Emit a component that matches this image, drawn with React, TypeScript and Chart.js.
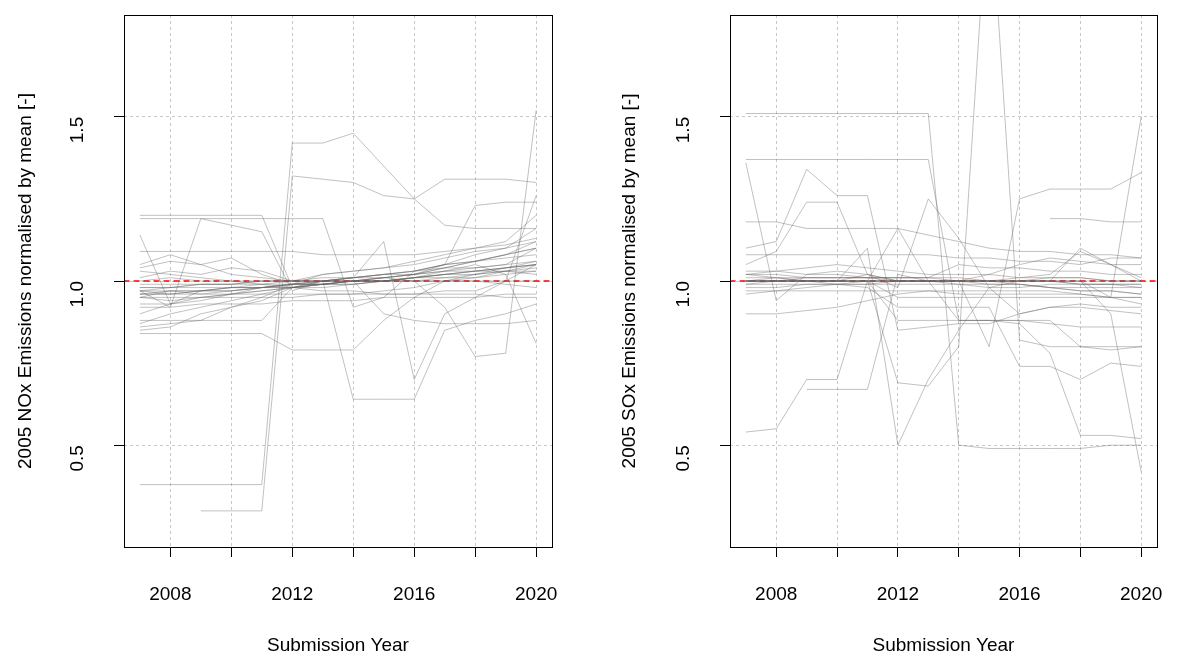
import { useEffect, useRef } from 'react';
import { Chart, registerables } from 'chart.js';

Chart.register(...registerables);

const years = [2007, 2008, 2009, 2010, 2011, 2012, 2013, 2014, 2015, 2016, 2017, 2018, 2019, 2020];
const yTicks = [0.5, 1.0, 1.5];
const xLabelYears = [2008, 2012, 2016, 2020];
const refLevel = 1.0;

const noxSeries: (number | null)[][] = [
  [0.38, 0.38, 0.38, 0.38, 0.38, 1.42, 1.42, 1.45, 1.35, 1.25, 1.17, 1.16, 1.16, 1.16],
  [null, null, 0.30, 0.30, 0.30, 1.32, 1.31, 1.30, 1.26, 1.25, 1.31, 1.31, 1.31, 1.30],
  [1.20, 1.20, 1.20, 1.20, 1.20, 0.98, 0.99, 1.00, 1.01, 1.02, 1.04, 1.06, 1.08, 1.10],
  [1.19, 1.19, 1.19, 1.19, 1.19, 1.19, 1.19, 0.92, 0.95, 1.03, 1.05, 1.08, 1.10, 1.12],
  [1.14, 0.93, 0.97, 0.98, 0.99, 1.00, 1.00, 1.01, 1.02, 1.03, 1.05, 1.06, 1.08, 1.10],
  [0.97, 0.92, 1.19, 1.17, 1.15, 0.97, 1.00, 1.00, 1.01, 1.02, 1.04, 1.06, 1.08, 1.12],
  [0.84, 0.84, 0.84, 0.84, 0.84, 0.79, 0.79, 0.79, 0.88, 0.95, 1.00, 1.02, 1.04, 1.05],
  [0.88, 0.88, 0.88, 0.88, 0.88, 0.98, 1.00, 0.64, 0.64, 0.64, 0.85, 0.88, 0.90, 0.93],
  [0.95, 0.97, 0.96, 0.97, 0.98, 0.99, 1.00, 1.01, 1.12, 0.70, 0.90, 0.95, 1.00, 1.05],
  [0.96, 0.96, 0.97, 0.97, 0.98, 0.99, 0.99, 1.00, 1.01, 1.00, 0.92, 0.77, 0.78, 1.52],
  [1.00, 1.01, 1.00, 1.00, 1.00, 1.00, 1.00, 1.01, 1.01, 1.02, 1.05, 1.23, 1.24, 1.24],
  [0.98, 0.98, 0.98, 0.98, 0.98, 0.99, 0.99, 1.00, 1.00, 1.01, 1.03, 1.05, 1.02, 0.81],
  [1.09, 1.09, 1.09, 1.09, 1.09, 1.09, 1.08, 1.08, 1.08, 1.08, 1.09, 1.10, 1.11, 1.13],
  [0.95, 0.95, 0.95, 0.95, 0.95, 0.95, 0.96, 0.96, 0.97, 0.98, 1.00, 1.01, 1.03, 1.05],
  [0.96, 0.97, 0.97, 0.97, 0.98, 0.98, 0.99, 1.00, 1.00, 1.01, 1.02, 1.03, 1.04, 1.05],
  [0.97, 0.96, 0.97, 0.98, 0.98, 0.99, 0.99, 1.00, 1.00, 1.01, 1.02, 1.03, 1.03, 1.04],
  [0.95, 0.94, 0.95, 0.96, 0.97, 0.98, 0.99, 0.99, 1.00, 1.01, 1.01, 1.02, 1.03, 1.03],
  [0.93, 0.93, 0.94, 0.96, 0.97, 0.98, 0.98, 0.99, 1.00, 1.01, 1.02, 1.02, 1.03, 1.02],
  [0.87, 0.90, 0.92, 0.94, 0.96, 0.98, 0.99, 1.00, 1.00, 1.01, 1.02, 1.03, 1.04, 1.06],
  [0.85, 0.86, 0.90, 0.92, 0.94, 0.98, 1.00, 1.01, 1.02, 1.03, 1.04, 1.04, 1.05, 1.06],
  [1.04, 1.06, 1.05, 1.07, 1.02, 0.99, 1.02, 1.03, 1.04, 1.06, 1.08, 1.10, 1.12, 1.20],
  [1.01, 1.03, 1.02, 1.04, 1.03, 1.00, 1.02, 1.03, 1.04, 1.05, 1.07, 1.09, 1.10, 1.16],
  [0.86, 0.87, 0.88, 0.92, 0.95, 0.99, 0.99, 1.00, 1.00, 1.00, 1.00, 1.00, 1.00, 1.00],
  [1.05, 1.08, 1.05, 1.02, 1.01, 1.00, 1.00, 1.01, 1.02, 1.03, 1.05, 1.06, 1.07, 1.08],
  [0.97, 0.98, 0.99, 0.99, 1.00, 1.00, 1.00, 1.00, 1.00, 1.00, 1.00, 1.00, 0.99, 0.98],
  [0.96, 0.96, 0.96, 0.96, 0.96, 0.96, 0.96, 0.96, 0.96, 0.96, 0.96, 0.96, 0.95, 0.95],
  [0.92, 0.92, 0.93, 0.93, 0.93, 0.94, 0.94, 0.94, 0.95, 0.95, 0.95, 0.95, 0.96, 0.96],
  [0.99, 0.99, 0.99, 0.99, 1.00, 1.00, 1.01, 1.01, 1.02, 1.02, 1.03, 1.03, 1.04, 1.05],
  [1.03, 1.02, 1.01, 1.00, 0.99, 0.98, 0.97, 0.97, 0.96, 0.96, 0.97, 0.97, 1.00, 1.26],
  [0.90, 0.93, 0.95, 0.96, 0.98, 0.99, 1.00, 1.00, 1.01, 1.02, 1.03, 1.04, 1.05, 1.10],
  [0.98, 0.98, 0.99, 0.99, 0.99, 0.99, 1.00, 1.00, 0.90, 0.88, 0.87, 0.87, 0.87, 0.88],
  [0.97, 0.97, 0.97, 0.98, 0.98, 0.98, 0.99, 0.99, 1.00, 1.00, 1.01, 1.01, 1.02, 1.03],
];

const soxSeries: (number | null)[][] = [
  [1.51, 1.51, 1.51, 1.51, 1.51, 1.51, 1.51, 0.50, 0.49, 0.49, 0.49, 0.49, 0.50, 0.50],
  [1.37, 1.37, 1.37, 1.37, 1.37, 1.37, 1.37, 0.88, 0.88, 0.88, 0.87, 0.86, 0.86, 0.86],
  [1.36, 0.94, 1.02, 1.03, 1.02, 1.00, 1.00, 1.00, 0.99, 0.99, 0.98, 0.97, 0.97, 0.96],
  [1.10, 1.12, 1.34, 1.26, 1.26, 0.85, 0.86, 0.87, 0.87, 0.90, 0.92, 0.93, 0.92, 0.92],
  [1.05, 1.09, 1.24, 1.24, 1.02, 0.98, 1.25, 1.13, 0.98, 0.90, 0.92, 0.92, 0.91, 0.90],
  [0.54, 0.55, 0.70, 0.70, 1.00, 1.16, 1.00, 1.00, 1.02, 1.05, 1.07, 1.06, 1.05, 1.05],
  [null, null, 0.67, 0.67, 0.67, 1.02, 1.00, 0.99, 0.98, 0.98, 0.99, 0.99, 0.99, 0.98],
  [1.02, 1.01, 1.00, 1.00, 1.10, 0.50, 0.70, 0.85, 0.98, 1.00, 1.01, 1.01, 1.00, 1.00],
  [1.00, 1.00, 1.00, 1.00, 1.00, 0.69, 0.68, 0.80, 2.23, 0.82, 0.80, 0.80, 0.79, 0.80],
  [1.00, 1.00, 1.00, 1.00, 1.00, 1.00, 1.00, 1.00, 0.80, 1.25, 1.28, 1.28, 1.28, 1.33],
  [1.00, 1.00, 1.00, 1.00, 1.00, 1.00, 1.00, 1.00, 1.00, 1.00, 1.00, 1.00, 0.95, 1.50],
  [1.00, 1.00, 1.00, 1.00, 1.00, 1.00, 1.00, 1.00, 1.00, 1.00, 1.00, 1.00, 0.90, 0.42],
  [1.18, 1.18, 1.16, 1.16, 1.16, 1.16, 1.14, 1.12, 1.10, 1.09, 1.09, 1.08, 1.08, 1.07],
  [0.90, 0.90, 0.91, 0.92, 0.94, 0.96, 0.97, 0.97, 0.97, 0.97, 0.97, 0.96, 0.95, 0.93],
  [null, null, null, null, null, null, null, null, null, null, 1.19, 1.19, 1.18, 1.18],
  [1.00, 1.00, 1.00, 1.00, 1.00, 0.88, 0.88, 0.88, 0.88, 0.88, 0.88, 0.80, 0.80, 0.80],
  [1.00, 1.01, 1.00, 0.99, 0.98, 0.92, 0.92, 0.92, 0.92, 0.74, 0.74, 0.70, 0.75, 0.74],
  [1.00, 1.00, 1.00, 1.00, 1.00, 1.00, 1.00, 0.88, 0.88, 0.87, 0.78, 0.53, 0.53, 0.52],
  [0.96, 0.97, 0.98, 0.99, 1.00, 1.00, 1.00, 1.00, 1.00, 1.01, 1.02, 1.09, 1.05, 1.00],
  [1.02, 1.02, 1.01, 1.01, 1.01, 1.00, 1.00, 1.00, 1.00, 1.00, 1.00, 0.99, 0.99, 0.99],
  [0.98, 0.98, 0.99, 0.99, 0.99, 1.00, 1.00, 1.00, 1.00, 1.00, 1.00, 1.00, 1.00, 1.00],
  [1.01, 1.01, 1.01, 1.01, 1.01, 1.01, 1.01, 1.00, 1.00, 1.00, 1.00, 0.99, 0.99, 0.99],
  [0.97, 0.97, 0.97, 0.97, 0.97, 0.97, 0.97, 0.96, 0.96, 0.96, 0.96, 0.96, 0.95, 0.95],
  [1.03, 1.03, 1.04, 1.05, 1.04, 1.03, 1.02, 1.02, 1.02, 1.01, 1.01, 1.01, 1.00, 1.00],
  [0.99, 0.99, 0.99, 0.99, 0.99, 0.99, 0.99, 0.99, 0.99, 0.99, 0.98, 0.98, 0.98, 0.98],
  [1.02, 1.03, 1.02, 1.02, 1.01, 1.01, 1.01, 1.01, 1.00, 0.99, 0.98, 0.97, 0.97, 0.96],
  [1.08, 1.08, 1.08, 1.08, 1.08, 1.08, 1.08, 1.07, 1.07, 1.06, 1.06, 1.05, 1.07, 1.07],
  [1.00, 1.00, 1.01, 1.01, 1.01, 1.01, 1.01, 1.05, 1.04, 1.04, 1.03, 1.03, 1.02, 1.02],
  [0.99, 1.00, 1.00, 1.00, 1.02, 1.00, 1.00, 1.00, 1.00, 1.00, 1.00, 1.10, 1.05, 1.01],
  [1.00, 1.00, 1.00, 1.00, 1.00, 0.95, 0.95, 0.95, 0.95, 0.95, 0.95, 0.95, 0.95, 0.95],
];

const X_MIN = 2006.48;
const X_MAX = 2020.52;
const Y_MIN = 0.19;
const Y_MAX = 1.81;
const FONT = 'Liberation Sans, Arial, sans-serif';

// box around the plot region, like R's box()
const boxPlugin = {
  id: 'box',
  afterDraw(chart: any) {
    const { ctx, chartArea: a } = chart;
    ctx.save();
    ctx.strokeStyle = '#000';
    ctx.lineWidth = 1;
    ctx.strokeRect(Math.round(a.left) + 0.5, Math.round(a.top) + 0.5, Math.round(a.right - a.left), Math.round(a.bottom - a.top));
    ctx.restore();
  },
};

function Panel({ series, yTitle, yWidth, padLeft, padRight }: {
  series: (number | null)[][];
  yTitle: string;
  yWidth: number;
  padLeft: number;
  padRight: number;
}) {
  const canvasRef = useRef<HTMLCanvasElement>(null);

  useEffect(() => {
    if (!canvasRef.current) return;
    const datasets: any[] = series.map(s => ({
      data: years.map((yr, i) => ({ x: yr, y: s[i] })),
      borderColor: 'rgba(100,100,100,0.4)',
      borderWidth: 1,
      pointRadius: 0,
      spanGaps: false,
    }));
    datasets.push({
      data: [{ x: X_MIN - 1, y: refLevel }, { x: X_MAX + 1, y: refLevel }],
      borderColor: '#ff0000',
      borderDash: [6, 4],
      borderWidth: 1.3,
      pointRadius: 0,
    });

    const chart = new Chart(canvasRef.current, {
      type: 'line',
      data: { datasets },
      plugins: [boxPlugin],
      options: {
        responsive: false,
        animation: false,
        layout: { padding: { top: 15, right: padRight, left: padLeft, bottom: 0 } },
        plugins: { legend: { display: false }, tooltip: { enabled: false } },
        scales: {
          x: {
            type: 'linear',
            min: X_MIN,
            max: X_MAX,
            afterBuildTicks: (ax: any) => { ax.ticks = years.filter(y => y % 2 === 0).map(v => ({ value: v })); },
            afterFit: (ax: any) => { ax.height = 114; ax.paddingLeft = 0; ax.paddingRight = 0; },
            grid: { color: '#c8c8c8', tickColor: '#000', tickLength: 10, tickBorderDash: [], lineWidth: 1 },
            border: { display: false, dash: [3, 3] },
            ticks: {
              color: '#000',
              font: { family: FONT, size: 19 },
              padding: 26,
              maxRotation: 0,
              autoSkip: false,
              callback: (v: any) => (xLabelYears.includes(v) ? String(v) : ''),
            },
            title: { display: true, text: 'Submission Year', color: '#000', font: { family: FONT, size: 19 }, padding: { top: 14 } },
          },
          y: {
            min: Y_MIN,
            max: Y_MAX,
            afterBuildTicks: (ax: any) => { ax.ticks = yTicks.map(v => ({ value: v })); },
            afterFit: (ax: any) => { ax.width = yWidth; ax.paddingTop = 0; ax.paddingBottom = 0; },
            grid: { color: '#c8c8c8', tickColor: '#000', tickLength: 10, tickBorderDash: [], lineWidth: 1 },
            border: { display: false, dash: [3, 3] },
            ticks: {
              color: '#000',
              font: { family: FONT, size: 19 },
              padding: 36,
              minRotation: 90,
              maxRotation: 90,
              callback: (v: any) => Number(v).toFixed(1),
            },
            title: { display: true, text: yTitle, color: '#000', font: { family: FONT, size: 19 }, padding: { bottom: 10 } },
          },
        },
      },
    } as any);
    return () => { chart.destroy(); };
  }, [series, yTitle, yWidth, padLeft, padRight]);

  return <canvas ref={canvasRef} width={585} height={661} style={{ display: 'block' }} />;
}

export default function App() {
  return (
    <div style={{ position: 'fixed', left: 0, top: 0, width: 1179, height: 661, background: '#fff' }}>
      <div style={{ position: 'absolute', left: 0, top: 0 }}>
        <Panel series={noxSeries} yTitle="2005 NOx Emissions normalised by mean [-]" yWidth={114} padLeft={10} padRight={33} />
      </div>
      <div style={{ position: 'absolute', left: 594, top: 0 }}>
        <Panel series={soxSeries} yTitle="2005 SOx Emissions normalised by mean [-]" yWidth={116} padLeft={20} padRight={22} />
      </div>
    </div>
  );
}
